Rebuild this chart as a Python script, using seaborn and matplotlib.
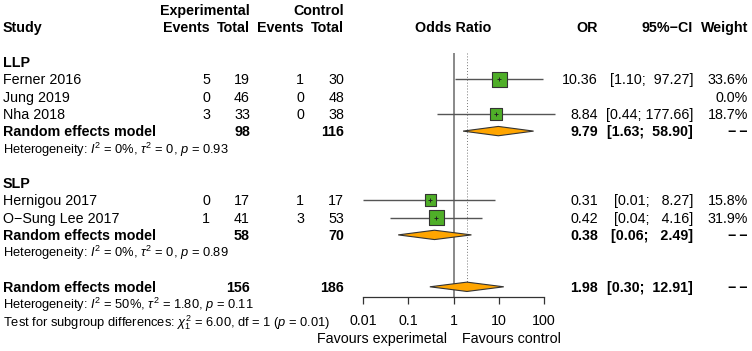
import numpy as np
import pandas as pd
import matplotlib
matplotlib.use("Agg")
import matplotlib.pyplot as plt
from matplotlib.ticker import NullLocator
import seaborn as sns

sns.set_theme(style="ticks")
plt.rcParams["font.family"] = ["Liberation Sans", "DejaVu Sans"]
plt.rcParams["mathtext.fontset"] = "custom"
plt.rcParams["mathtext.rm"] = "Liberation Sans"
plt.rcParams["mathtext.it"] = "Liberation Sans:italic"
plt.rcParams["mathtext.bf"] = "Liberation Sans:bold"

# study level data
studies = ["Ferner 2016", "Jung 2019", "Nha 2018", "Hernigou 2017", "O\u2212Sung Lee 2017"]
subgroup = ["LLP", "LLP", "LLP", "SLP", "SLP"]
exp_events = [5, 0, 3, 0, 1]
exp_total = [19, 46, 33, 17, 41]
ctrl_events = [1, 0, 0, 1, 3]
ctrl_total = [30, 48, 38, 17, 53]
odds = [10.36, np.nan, 8.84, 0.31, 0.42]
ci_low = [1.10, np.nan, 0.44, 0.01, 0.04]
ci_high = [97.27, np.nan, 177.66, 8.27, 4.16]
weight = [33.6, 0.0, 18.7, 15.8, 31.9]

# random effects summaries (LLP, SLP, overall)
re_names = ["LLP", "SLP", "Overall"]
re_exp_total = [98, 58, 156]
re_ctrl_total = [116, 70, 186]
re_or = [9.79, 0.38, 1.98]
re_low = [1.63, 0.06, 0.30]
re_high = [58.90, 2.49, 12.91]
het_i2 = [0, 0, 50]
het_tau2 = [0, 0, 1.80]
het_p = [0.93, 0.89, 0.11]
test_chi2, test_df, test_p = 6.00, 1, 0.01

ticks = [0.01, 0.1, 1, 10, 100]
tick_labels = ["0.01", "0.1", "1", "10", "100"]

# layout (pixels / rows)
W, H = 752, 351
ROW0, ROWH = 10, 17.3
FS = 10.3
FS_HET = 9.3


def row_of(px):
    return (px - ROW0) / ROWH


study_rows = [4, 5, 6, 11, 12]
group_rows = {"LLP": 3, "SLP": 10}
re_rows = [7, 13, 16]
het_rows = [8, 14, 17]
BASE = 0.30  # baseline offset in rows

fig = plt.figure(figsize=(7.52, 3.51), dpi=100)
tx = fig.add_axes([0, 0, 1, 1])
tx.set_xlim(0, W)
tx.set_ylim(row_of(H), row_of(0))
tx.axis("off")

fx = fig.add_axes([363 / W, (H - 297) / H, (544 - 363) / W, 297 / H])
fx.patch.set_alpha(0)


def put(x, r, s, ha="left", bold=False, size=FS):
    tx.text(x, r + BASE, s, ha=ha, va="baseline", fontsize=size,
            fontweight="bold" if bold else "normal", color="black")


def fmt_ci(lo, hi):
    return "[" + f"{lo:.2f}" + "; " + f"{hi:.2f}".rjust(6) + "]"


# column positions
X_STUDY, X_EE, X_ET, X_CE, X_CT = 3, 210, 250, 304, 344
X_OR, X_CI, X_W = 598, 693, 748

# headers
put(X_ET, 0, "Experimental", ha="right", bold=True)
put(X_CT, 0, "Control", ha="right", bold=True)
put(X_STUDY, 1, "Study", bold=True)
put(X_EE, 1, "Events", ha="right", bold=True)
put(X_ET, 1, "Total", ha="right", bold=True)
put(X_CE, 1, "Events", ha="right", bold=True)
put(X_CT, 1, "Total", ha="right", bold=True)
put(453, 1, "Odds Ratio", ha="center", bold=True)
put(X_OR, 1, "OR", ha="right", bold=True)
put(X_CI, 1, "95%\u2212CI", ha="right", bold=True)
put(X_W, 1, "Weight", ha="right", bold=True)

for g, r in group_rows.items():
    put(X_STUDY, r, g, bold=True)

for i, r in enumerate(study_rows):
    put(X_STUDY, r, studies[i])
    put(X_EE, r, str(exp_events[i]), ha="right")
    put(X_ET, r, str(exp_total[i]), ha="right")
    put(X_CE, r, str(ctrl_events[i]), ha="right")
    put(X_CT, r, str(ctrl_total[i]), ha="right")
    if not np.isnan(odds[i]):
        put(X_OR, r, f"{odds[i]:.2f}", ha="right")
        put(X_CI, r, fmt_ci(ci_low[i], ci_high[i]), ha="right")
    put(X_W, r, f"{weight[i]:.1f}%", ha="right")

for k, r in enumerate(re_rows):
    put(X_STUDY, r, "Random effects model", bold=True)
    put(X_ET, r, str(re_exp_total[k]), ha="right", bold=True)
    put(X_CT, r, str(re_ctrl_total[k]), ha="right", bold=True)
    put(X_OR, r, f"{re_or[k]:.2f}", ha="right", bold=True)
    put(X_CI, r, fmt_ci(re_low[k], re_high[k]), ha="right", bold=True)
    put(X_W, r, "\u2212\u2009\u2212", ha="right", bold=True)

for k, r in enumerate(het_rows):
    tau = "0" if het_tau2[k] == 0 else f"{het_tau2[k]:.2f}"
    put(X_STUDY, r, r"Heterogeneity: $I^2$ = " + f"{het_i2[k]}%, " + r"$\tau^2$ = "
        + tau + r", $p$ = " + f"{het_p[k]:.2f}", size=FS_HET)
put(X_STUDY, 18, r"Test for subgroup differences: $\chi^2_1$ = " + f"{test_chi2:.2f}, df = {test_df} ("
    + r"$p$ = " + f"{test_p:.2f})", size=FS_HET)

put(447, row_of(338), "Favours experimetal", ha="right")
put(462, row_of(338), "Favours control", ha="left")

# forest panel
df = pd.DataFrame({"study": studies, "row": study_rows, "or": odds,
                   "lo": ci_low, "hi": ci_high, "weight": weight}).dropna()

fx.vlines(1, row_of(53), row_of(297), color="#808080", lw=1.3, zorder=1)
fx.vlines(re_or[2], row_of(53), re_rows[2], color="#777777", lw=0.7,
          linestyles=(0, (1, 2)), zorder=1)
fx.hlines(df["row"], df["lo"], df["hi"], color="#555555", lw=1.0, zorder=2, clip_on=False)

sns.scatterplot(data=df, x="or", y="row", size="weight", sizes=(70, 112),
                size_norm=(15.8, 33.6), marker="s", color="#4FAE28",
                edgecolor="#333333", linewidth=0.8, legend=False, ax=fx, zorder=3)
fx.scatter(df["or"], df["row"], marker="+", s=12, color="#222222", lw=0.7, zorder=4)

for k, r in enumerate(re_rows):
    h = 0.27
    fx.fill([re_low[k], re_or[k], re_high[k], re_or[k]], [r, r - h, r, r + h],
            facecolor="#FFA500", edgecolor="#333333", lw=0.8, zorder=3)

fx.set_xscale("log")
fx.set_xlim(0.01, 100)
fx.set_ylim(row_of(297), row_of(0))
fx.set_xticks(ticks)
fx.set_xticklabels(tick_labels)
fx.xaxis.set_minor_locator(NullLocator())
fx.set_yticks([])
fx.set_xlabel("")
fx.set_ylabel("")
for s in ["top", "right", "left"]:
    fx.spines[s].set_visible(False)
fx.spines["bottom"].set_color("#333333")
fx.spines["bottom"].set_linewidth(0.9)
fx.tick_params(axis="x", direction="out", length=5, width=0.9, color="#333333",
               pad=7, labelsize=FS, labelcolor="black", bottom=True)

fig.savefig("out.png", dpi=100)
